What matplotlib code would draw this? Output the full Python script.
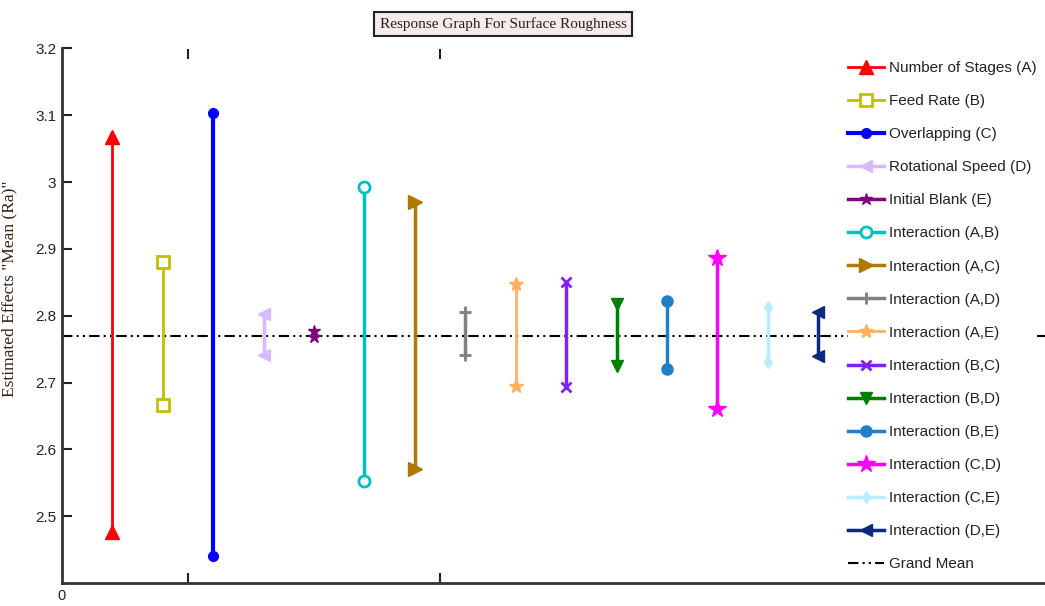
import matplotlib
matplotlib.use("Agg")
import matplotlib.pyplot as plt
from matplotlib.ticker import FuncFormatter

# data
labels = ["Number of Stages (A)", "Feed Rate (B)", "Overlapping (C)", "Rotational Speed (D)",
          "Initial Blank (E)", "Interaction (A,B)", "Interaction (A,C)", "Interaction (A,D)",
          "Interaction (A,E)", "Interaction (B,C)", "Interaction (B,D)", "Interaction (B,E)",
          "Interaction (C,D)", "Interaction (C,E)", "Interaction (D,E)"]
high = [3.067, 2.880, 3.104, 2.802, 2.777, 2.992, 2.971, 2.805, 2.847, 2.850,
        2.817, 2.822, 2.887, 2.813, 2.805]
low = [2.477, 2.666, 2.441, 2.742, 2.768, 2.553, 2.571, 2.741, 2.695, 2.694,
       2.725, 2.721, 2.660, 2.731, 2.740]
grand_mean = 2.770

# styles
colors = ["#ff0000", "#c0c000", "#0000ff", "#d8b8ff", "#800080", "#00c0c0", "#b07800",
          "#808080", "#ffb060", "#8020ff", "#008000", "#1f80c8", "#ff00ff", "#b8ecff", "#0a2a80"]
markers = ["^", "s", "o", "<", "*", "o", ">", "+", "*", "x", "v", "o", "*", "d", "<"]
open_mk = [False, True, False, False, False, True, False, False, False, False,
           False, False, False, False, False]
msizes = [10, 8, 7, 9, 9, 8, 10, 9, 10, 7, 9, 8, 13, 6, 9]
lws = [2, 2, 3, 2.5, 2.5, 2.5, 2.5, 2.5, 2, 2.5, 2.5, 2.5, 2.5, 2.5, 2.5]

plt.rcParams["font.family"] = ["Liberation Sans", "DejaVu Sans"]

fig = plt.figure(figsize=(10.45, 6.06), dpi=100)
fig.patch.set_facecolor("white")
ax = fig.add_axes([62/1045, 23/606, 983/1045, 534.5/606])

for i in range(len(labels)):
    x = i + 1
    kw = dict(color=colors[i], lw=lws[i], marker=markers[i], markersize=msizes[i],
              markeredgewidth=2 if open_mk[i] or markers[i] in "+x" else 1)
    if open_mk[i]:
        kw["markerfacecolor"] = "white"
    ax.plot([x, x], [high[i], low[i]], label=labels[i], **kw)

ax.axhline(grand_mean, color="black", lw=1.5, ls=(0, (5, 2, 1, 2, 1, 2)),
           label="Grand Mean", zorder=1)

ax.set_xlim(0, 19.5)
ax.set_ylim(2.4, 3.2)
ax.set_yticks([2.5, 2.6, 2.7, 2.8, 2.9, 3.0, 3.1, 3.2])
ax.yaxis.set_major_formatter(FuncFormatter(lambda v, p: "%g" % round(v, 2)))
ax.set_xticks([2.5, 7.5])
ax.set_xticklabels([])
ax.tick_params(axis="both", direction="in", length=7, width=1.5, top=True,
               labelsize=11, colors="#222222")
ax.tick_params(axis="y", pad=4)
ax.spines["top"].set_visible(False)
ax.spines["right"].set_visible(False)
for s in ["left", "bottom"]:
    ax.spines[s].set_linewidth(2)
    ax.spines[s].set_color("#333333")
ax.text(0, -0.012, "0", transform=ax.get_xaxis_transform(), ha="center", va="top",
        fontsize=10.5, color="#222222")

ax.set_ylabel('Estimated Effects "Mean (Ra)"', fontsize=12.5, color="#3a2010",
              family=["Liberation Serif", "DejaVu Serif"])
ax.yaxis.set_label_coords(-45/983, 0.55)

fig.text(503/1045, 1 - 24/606, "Response Graph For Surface Roughness", ha="center",
         va="center", fontsize=11, family=["Liberation Serif", "DejaVu Serif"],
         color="#222222",
         bbox=dict(boxstyle="square,pad=0.35", facecolor="#f6ebe8", edgecolor="#222222",
                   linewidth=1.5))

leg = ax.legend(loc="upper left", bbox_to_anchor=(848/1045, 1 - 61/606),
                bbox_transform=fig.transFigure, frameon=True, fancybox=False,
                facecolor="white", edgecolor="none", framealpha=1, fontsize=11,
                handlelength=2.35, labelspacing=1.25, handletextpad=0.35,
                borderaxespad=0, borderpad=0)
for t in leg.get_texts():
    t.set_color("#222222")

plt.savefig("out.png", dpi=100)
plt.close()
